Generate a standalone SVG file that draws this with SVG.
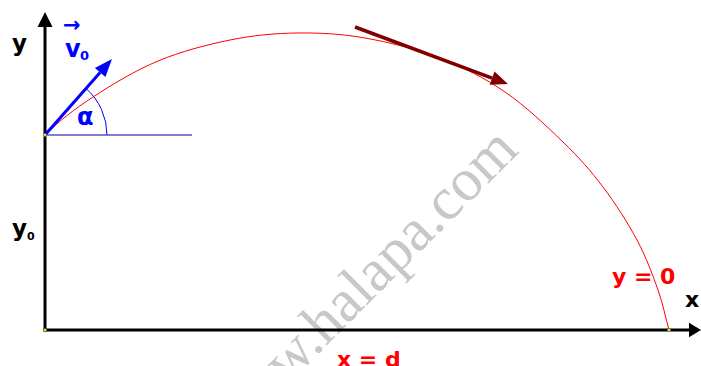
<svg xmlns="http://www.w3.org/2000/svg" width="701" height="366" viewBox="0 0 701 366">
<style>
.lbl{font-family:"DejaVu Sans","Verdana",sans-serif;font-weight:bold}
.blk{fill:#000}
.blue{fill:#0000ff}
.red{fill:#ff0000}
.axis{stroke:#000;stroke-width:3;fill:none}
.dot{fill:#ffff00;stroke:#555;stroke-width:0.6}
</style>
<rect width="701" height="366" fill="#fff"/>
<g id="watermark">
<text x="226" y="446" transform="rotate(-45 226 446)" font-family="Liberation Serif, serif" font-size="60" fill="#c8c8c8">www.halapa.com</text>
</g>
<g id="connectors">
<path class="axis" d="M45 331.5 V26"/>
<polygon points="45,12 52.5,27 37.5,27" fill="#000"/>
<path class="axis" d="M43.5 330 H690"/>
<polygon points="701,330 689,322.8 689,337.2" fill="#000"/>
<path d="M45 135 H192" stroke="#0000a0" stroke-width="1.2" fill="none"/>
<path d="M107 135 A62 62 0 0 0 86 88.5" stroke="#0000ff" stroke-width="1" fill="none"/>
<path d="M45 135 C59 121 74.2 109.3 93 97 C111.8 84.7 135.2 70.5 158 61 C180.8 51.5 206.8 44.7 230 40 C253.2 35.3 274.5 33.3 297 33 C319.5 32.7 341.2 33.8 365 38 C388.8 42.2 416.7 49 440 58 C463.3 67 484.5 78 505 92 C525.5 106 546.7 126.2 563 142 C579.3 157.8 590.7 170.7 603 187 C615.3 203.3 627.8 222.8 637 240 C646.2 257.2 652.7 275 658 290 C663.3 305 665.3 316.7 669 330" stroke="#ff0000" stroke-width="1" fill="none"/>
<path d="M45 135 L100.1 72.5" stroke="#0000ff" stroke-width="3" fill="none"/>
<polygon points="112,59 105.4,77.1 94.9,67.9" fill="#0000ff"/>
<path d="M355 27 L492.1 78.1" stroke="#800000" stroke-width="3.5" fill="none"/>
<polygon points="508,84 489.7,84.7 494.5,71.5" fill="#800000"/>
</g>
<g id="points">
<circle class="dot" cx="45" cy="135" r="1.6"/>
<circle class="dot" cx="45" cy="330" r="1.6"/>
<circle class="dot" cx="669" cy="330" r="1.6"/>
</g>
<g id="labels">
<text class="lbl blk" x="12" y="51" font-size="23">y</text>
<text class="lbl blk" x="685" y="307" font-size="22">x</text>
<text class="lbl blk" x="12" y="236" font-size="23">y</text>
<text class="lbl blk" x="27" y="240" font-size="11">0</text>
<text class="lbl blue" x="63" y="32" font-size="21">→</text>
<text class="lbl blue" x="65" y="57" font-size="24">v</text>
<text class="lbl blue" x="80" y="60" font-size="13">0</text>
<text class="lbl blue" x="77" y="125" font-size="24">α</text>
<text class="lbl red" x="612" y="284" font-size="22">y = 0</text>
<text class="lbl red" x="337" y="367" font-size="22">x = d</text>
</g>
</svg>
